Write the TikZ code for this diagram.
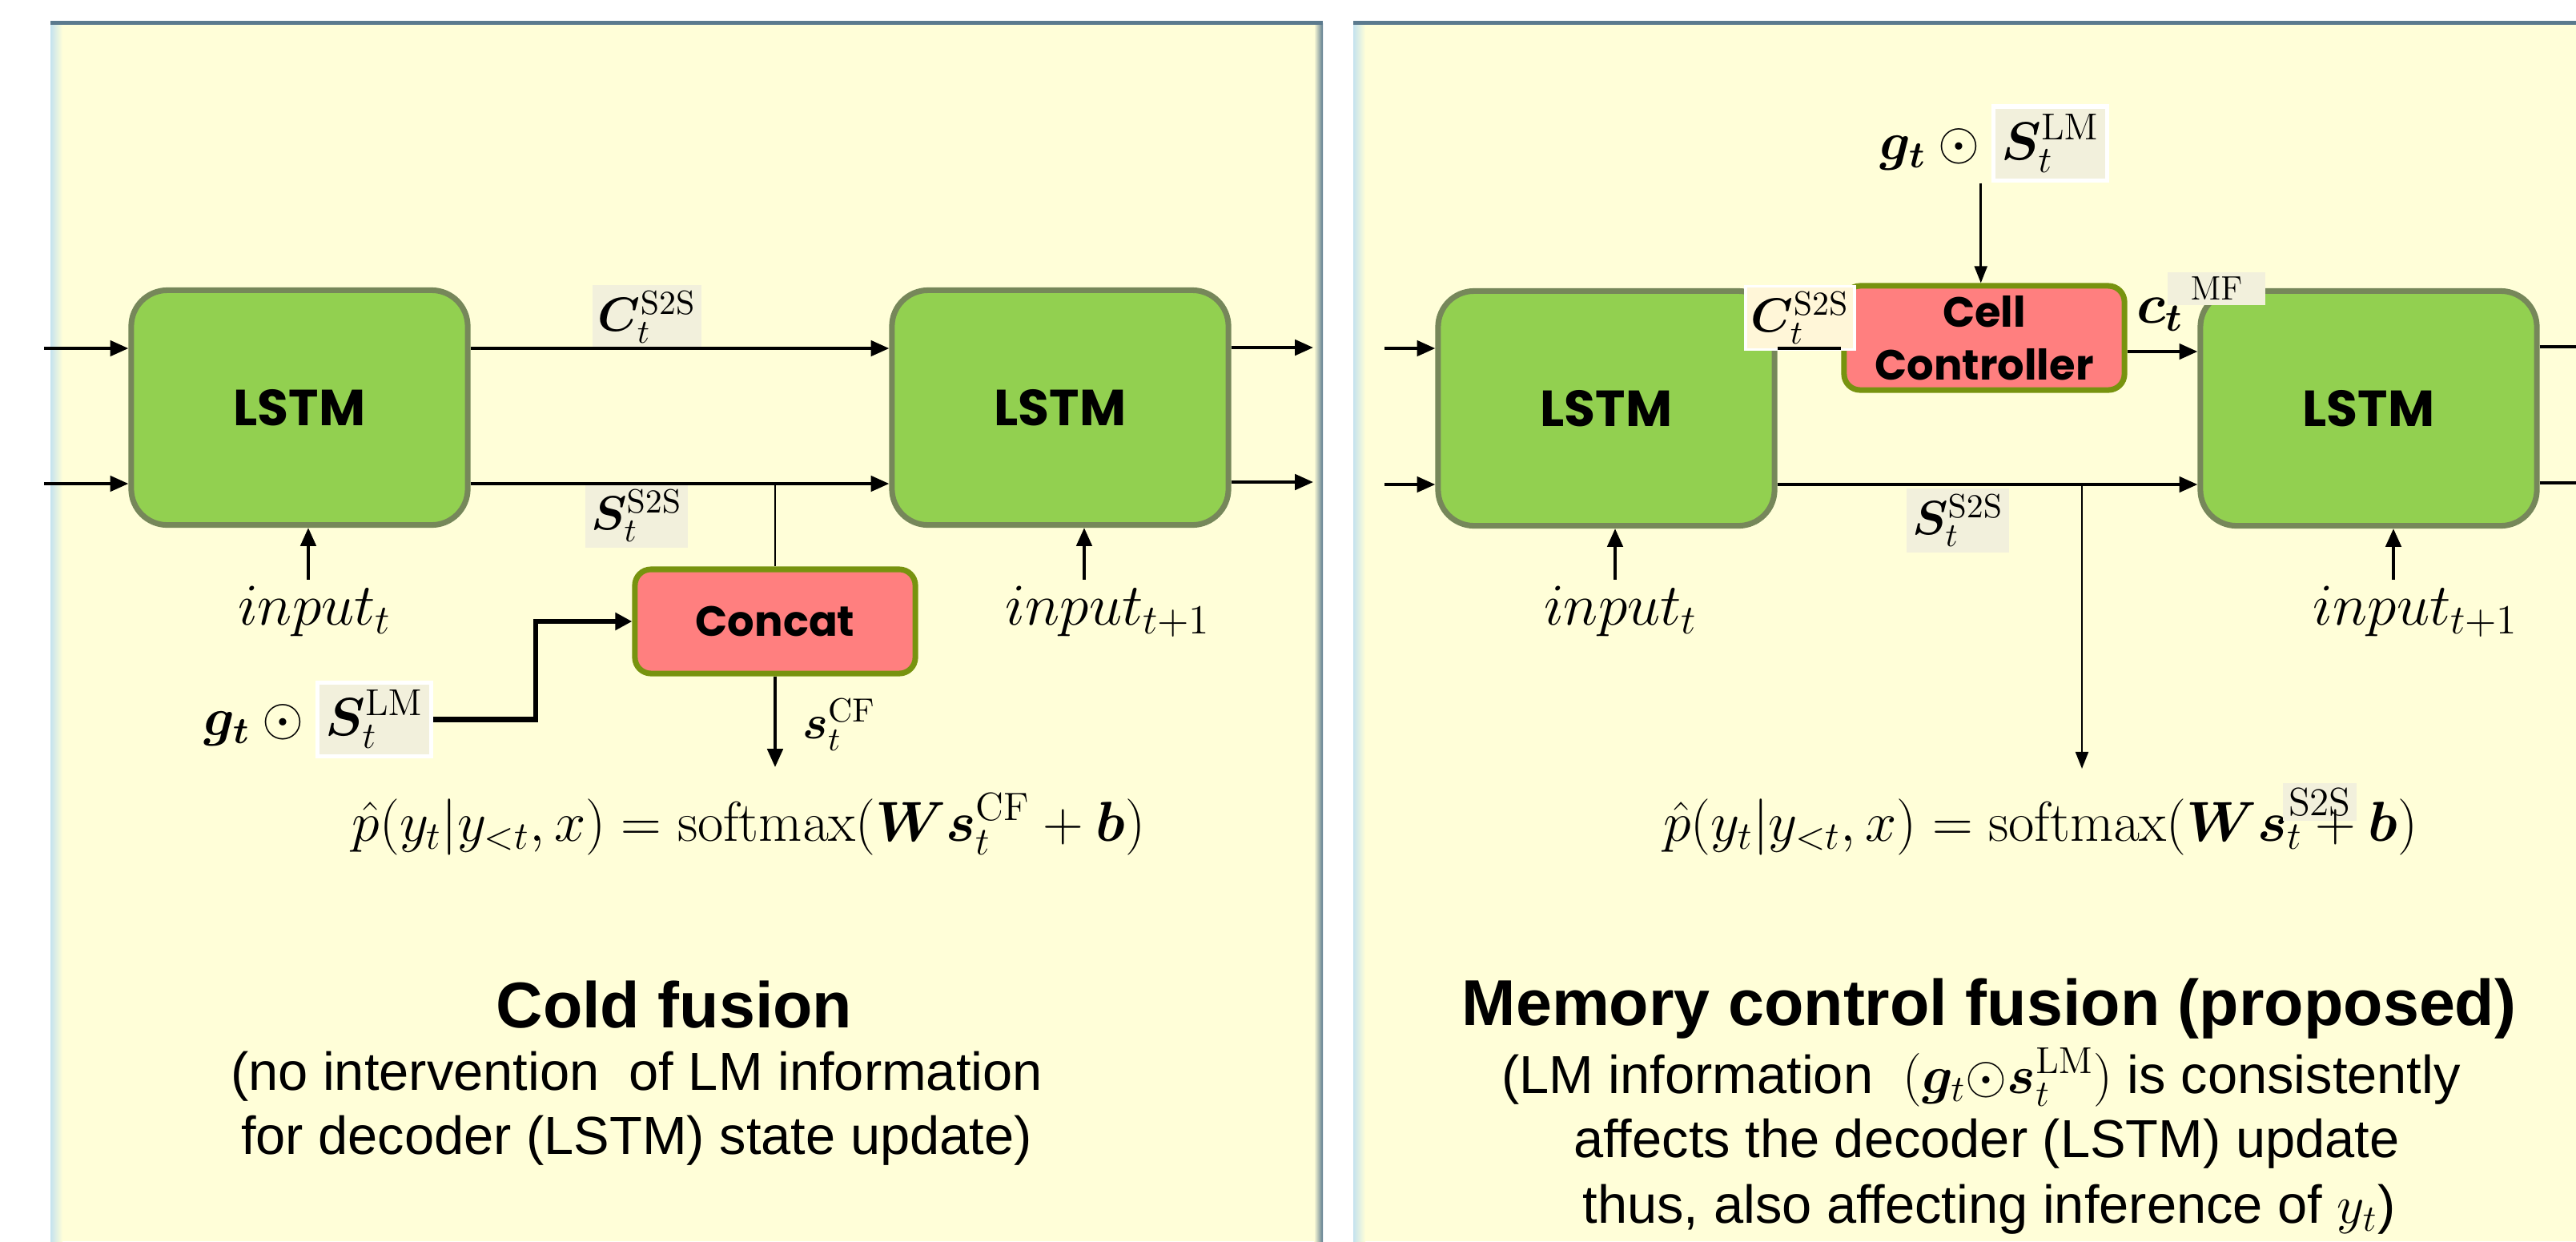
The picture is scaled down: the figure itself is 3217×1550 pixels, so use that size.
\RequirePackage{fix-cm}
\documentclass[tikz,border=0pt]{standalone}
\usepackage[no-math]{fontspec}
\usepackage{amsmath,bm}
\usetikzlibrary{arrows.meta}
\newfontfamily\arialf{Liberation Sans}
\newfontfamily\boxf{Poppins}
\definecolor{panelY}{HTML}{FFFED8}
\definecolor{lstmG}{HTML}{92D050}
\definecolor{lstmB}{HTML}{76875A}
\definecolor{concatR}{HTML}{FF7F7F}
\definecolor{concatB}{HTML}{77930F}
\definecolor{lblB}{HTML}{F2F0DC}
\definecolor{lblC}{HTML}{FFF6D8}
\definecolor{edgeD}{HTML}{5B7A8E}
\definecolor{edgeL}{HTML}{C4E2EF}
\setlength{\fboxsep}{2pt}
\setlength{\fboxrule}{1.5pt}
\begin{document}
\begin{tikzpicture}[x=0.01cm,y=-0.01cm,
  lstm/.style={draw=lstmB,line width=2pt,fill=lstmG,rounded corners=0.45cm,
    minimum width=4.2cm,minimum height=2.93cm,inner sep=0pt,
    font=\boxf\bfseries\fontsize{18}{22}\selectfont},
  opbox/.style={draw=concatB,line width=2pt,fill=concatR,rounded corners=0.2cm,
    minimum width=3.5cm,minimum height=1.3cm,inner sep=0pt,align=center,
    font=\boxf\bfseries\fontsize{15}{18.8}\selectfont},
  ln/.style={line width=1.1pt},
  arr/.style={ln,-{Triangle[length=6.5pt,width=5.5pt]}},
  thinarr/.style={line width=0.8pt,-{Triangle[length=6pt,width=4.5pt]}},
  thinln/.style={line width=0.8pt},
  thickarr/.style={line width=1.9pt,-{Triangle[length=6pt,width=6pt]}},
  mathlbl/.style={inner sep=2pt,font=\fontsize{17}{20}\selectfont},
  boxlbl/.style={mathlbl,fill=lblB},
  inlbl/.style={anchor=base,inner sep=2pt,font=\fontsize{21}{25}\selectfont},
  formula/.style={anchor=base,inner sep=0pt,font=\fontsize{20}{24}\selectfont},
  title/.style={anchor=base,inner sep=0pt,font=\arialf\bfseries\fontsize{23}{27}\selectfont},
  subt/.style={anchor=base,inner sep=0pt,font=\arialf\fontsize{19}{22}\selectfont}
]
\useasboundingbox (0,0) rectangle (3217,1550);
\fill[white] (0,0) rectangle (3217,1550);
% panels
\fill[panelY] (63,29) rectangle (1652,1550);
\shade[left color=edgeL,right color=panelY] (63,29) rectangle (78,1550);
\shade[left color=panelY,right color=edgeD] (1641,29) rectangle (1652,1550);
\fill[edgeD] (63,26) rectangle (1652,31);
\fill[panelY] (1690,29) rectangle (3217,1550);
\shade[left color=edgeL,right color=panelY] (1690,29) rectangle (1705,1550);
\fill[edgeD] (1690,26) rectangle (3217,31);

% boxes
\node[lstm] (L1) at (374,509) {LSTM};
\node[lstm] (L2) at (1324,509) {LSTM};
\node[lstm] (L3) at (2006,510) {LSTM};
\node[lstm] (L4) at (2958,510) {LSTM};
\node[opbox] (CT) at (968,776) {Concat};
\node[opbox] (CC) at (2478,422) {Cell\\Controller};

% coordinates
\coordinate (inC1) at (55,435);
\coordinate (inS1) at (55,604);
\coordinate (outC2) at (1640,434);
\coordinate (outS2) at (1640,602);
\coordinate (inC3) at (1729,435);
\coordinate (inS3) at (1729,605);
\coordinate (mfy) at (2700,439);
\coordinate (outC4) at (3217,433);
\coordinate (outS4) at (3217,603);
\coordinate (br1) at (968,604);
\coordinate (cfOut) at (968,958);
\coordinate (br3) at (2600,605);
\coordinate (s2sOut) at (2600,960);
\coordinate (elb) at (669,776);

% labels
\node[boxlbl] (cL) at (808,396) {$\bm{C}_t^{\mathrm{S2S}}$};
\node[boxlbl] (sL) at (795,644) {$\bm{S}_t^{\mathrm{S2S}}$};
\node[mathlbl] (sCF) at (1048,905) {$\bm{s}_t^{\mathrm{CF}}$};
\node[anchor=base west,inner sep=0pt,font=\fontsize{19}{22}\selectfont] (gL) at (254,918)
  {$\bm{g}_{\bm{t}}\odot{}$\fcolorbox{white}{lblB}{$\bm{S}_t^{\mathrm{LM}}$}};
\node[boxlbl,fill=lblC,draw=white,line width=1pt] (cR) at (2248,397) {$\bm{C}_t^{\mathrm{S2S}}$};
\node[anchor=base west,inner sep=0pt,font=\fontsize{20}{24}\selectfont] (ctR) at (2668,403) {$\bm{c}_{\bm{t}}$};
\node[fill=lblB,minimum width=1.21cm,minimum height=0.41cm,inner sep=0pt,font=\fontsize{12}{14}\selectfont] (mfR) at (2768,360) {$\mathrm{MF}$};
\node[boxlbl] (sR) at (2445,650) {$\bm{S}_t^{\mathrm{S2S}}$};
\node[anchor=base west,inner sep=0pt,font=\fontsize{19}{22}\selectfont] (gR) at (2347,199)
  {$\bm{g}_{\bm{t}}\odot{}$\fcolorbox{white}{lblB}{$\bm{S}_t^{\mathrm{LM}}$}};

\node[inlbl] (i1) at (393,780) {$input_t$};
\node[inlbl] (i2) at (1384,780) {$input_{t+1}$};
\node[inlbl] (i3) at (2024,780) {$input_t$};
\node[inlbl] (i4) at (3017,780) {$input_{t+1}$};

% connectors left
\draw[arr] (inC1) -- (inC1 -| L1.west);
\draw[arr] (inS1) -- (inS1 -| L1.west);
\draw[arr] (inC1 -| L1.east) -- (inC1 -| L2.west);
\draw[arr] (inS1 -| L1.east) -- (inS1 -| L2.west);
\draw[arr] (outC2 -| L2.east) -- (outC2);
\draw[arr] (outS2 -| L2.east) -- (outS2);
\draw[thinln] (br1) -- (CT.north);
\draw[arr] (CT.south) -- (cfOut);
\draw[thickarr] (gL.east) -| (elb) -- (CT.west);
\draw[arr] ([xshift=-0.08cm]i1.north) -- ([xshift=-0.08cm]i1.north |- L1.south);
\draw[arr] ([xshift=-0.3cm]i2.north) -- ([xshift=-0.3cm]i2.north |- L2.south);

% connectors right
\draw[arr] (inC3) -- (inC3 -| L3.west);
\draw[arr] (inS3) -- (inS3 -| L3.west);
\draw[ln] (inC3 -| L3.east) -- (inC3 -| CC.west);
\draw[arr] (mfy -| CC.east) -- (mfy -| L4.west);
\draw[arr] (inS3 -| L3.east) -- (inS3 -| L4.west);
\draw[thinarr] (br3) -- (s2sOut);
\draw[ln] (outC4 -| L4.east) -- (outC4);
\draw[ln] (outS4 -| L4.east) -- (outS4);
\draw[thinarr] ([xshift=-0.17cm]gR.south) -- ([xshift=-0.17cm]gR.south |- CC.north);
\draw[arr] ([xshift=-0.07cm]i3.north) -- ([xshift=-0.07cm]i3.north |- L3.south);
\draw[arr] ([xshift=-0.28cm]i4.north) -- ([xshift=-0.28cm]i4.north |- L4.south);

% formulas
\node[formula] (fL) at (935,1050) {$\hat{p}(y_t|y_{<t},x)=\mathrm{softmax}(\bm{W}\bm{s}_t^{\mathrm{CF}}+\bm{b})$};
\node[formula] (fR) at (2548,1050) {$\hat{p}(y_t|y_{<t},x)=\mathrm{softmax}(\bm{W}\bm{s}_t\rlap{\kern-0.35em\raisebox{0.45em}{\colorbox{lblB}{$\scriptstyle\mathrm{S2S}$}}}+\bm{b})$};

% titles
\node[title] (tL) at (842,1283) {Cold fusion};
\node[subt] (sL1) at (795,1361) {(no intervention\ \ of LM information};
\node[subt] (sL2) at (795,1441) {for decoder (LSTM) state update)};
\node[title] (tR) at (2484,1280) {Memory control fusion (proposed)};
\node[subt] (sR1) at (2474,1365) {(LM information\ \ $(\bm{g}_t{\odot}\bm{s}_t^{\mathrm{LM}})$ is consistently};
\node[subt] (sR2) at (2481,1445) {affects the decoder (LSTM) update};
\node[subt] (sR3) at (2484,1527) {thus, also affecting inference of $y_t$)};
\end{tikzpicture}
\end{document}
